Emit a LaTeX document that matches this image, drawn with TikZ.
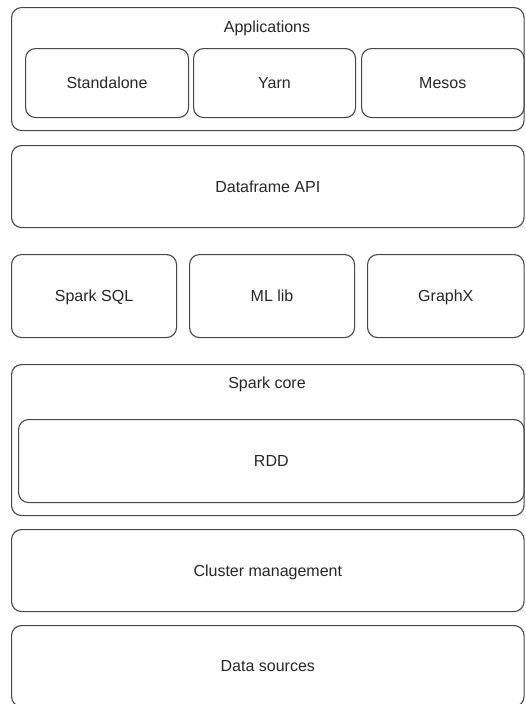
\documentclass[tikz,border=0pt]{standalone}
\usepackage{fontspec}
\setmainfont{Liberation Sans}
\begin{document}
\begin{tikzpicture}[x=1pt,y=-1pt,
  box/.style={draw=black!72, line width=1.1pt, rounded corners=10pt, anchor=north west,
    inner sep=0pt, font=\fontsize{16}{19}\selectfont, text=black!85,
    text height=11.5pt, text depth=0pt},
  lbl/.style={inner sep=0pt, font=\fontsize{16}{19}\selectfont, text=black!85,
    text height=11.5pt, text depth=0pt}]
\useasboundingbox (0,0) rectangle (525,704);
% Applications
\node[box, minimum width=512.5pt, minimum height=123pt] (apps) at (11,7) {};
\node[lbl] (appsl) at (267,27) {Applications};
\node[box, minimum width=163pt, minimum height=69pt] (standalone) at (25,48) {Standalone};
\node[box, minimum width=162pt, minimum height=69pt] (yarn) at (193,48) {Yarn};
\node[box, minimum width=162.5pt, minimum height=69pt] (mesos) at (361,48) {Mesos};
% Dataframe API
\node[box, minimum width=512.5pt, minimum height=82pt] (df) at (11,145) {Dataframe API};
% libraries
\node[box, minimum width=165pt, minimum height=83pt] (sql) at (11,254) {Spark SQL};
\node[box, minimum width=165pt, minimum height=83pt] (ml) at (189,254) {ML lib};
\node[box, minimum width=156.5pt, minimum height=83pt] (graphx) at (367,254) {GraphX};
% Spark core
\node[box, minimum width=512.5pt, minimum height=151pt] (core) at (11,364) {};
\node[lbl] (corel) at (267,383) {Spark core};
\node[box, minimum width=505.5pt, minimum height=83pt] (rdd) at (18,419) {RDD};
% Cluster management
\node[box, minimum width=512.5pt, minimum height=82pt] (cluster) at (11,529) {Cluster management};
% Data sources
\node[box, minimum width=512.5pt, minimum height=81pt] (data) at (11,625) {Data sources};
\end{tikzpicture}
\end{document}
